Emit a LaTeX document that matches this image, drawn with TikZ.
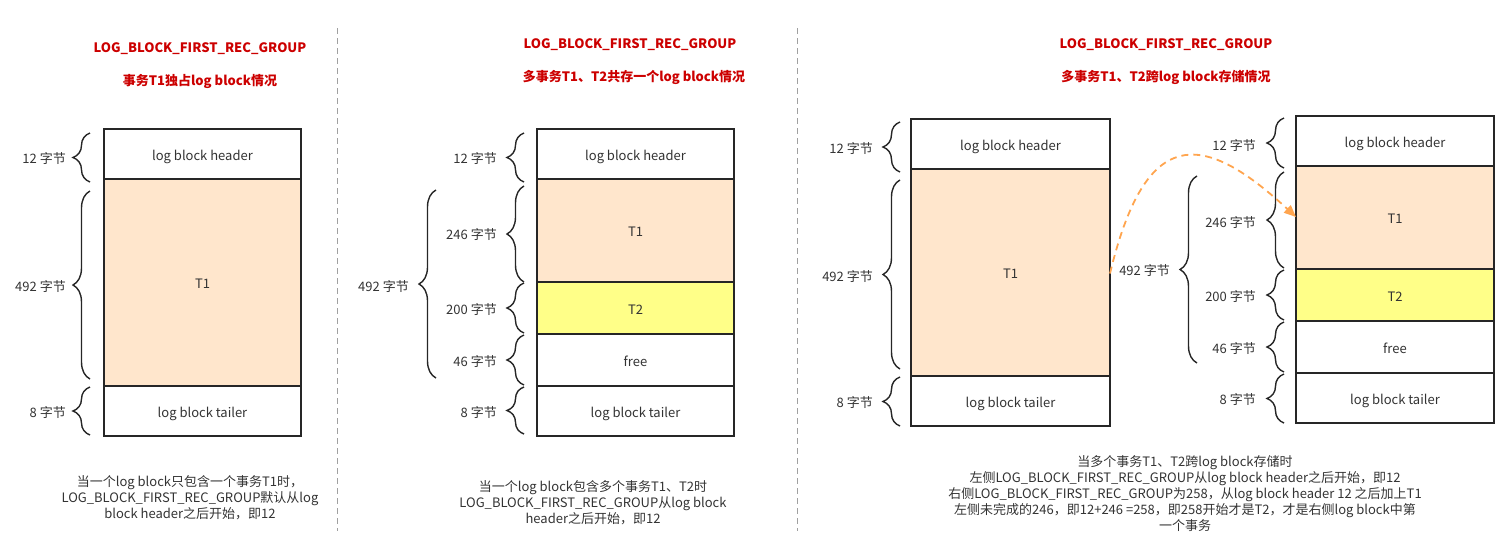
\documentclass[tikz,border=0pt]{standalone}
\usepackage{fontspec}
\setmainfont{Noto Sans CJK SC}
\usetikzlibrary{decorations.pathreplacing,arrows.meta}
\definecolor{peach}{HTML}{FFE6CC}
\definecolor{lemon}{HTML}{FFFF88}
\definecolor{titlered}{HTML}{CC0000}
\definecolor{ink}{HTML}{333333}
\definecolor{arrowor}{HTML}{FFA54F}
\definecolor{sepgray}{HTML}{A0A0A0}
\tikzset{
  cell/.style={draw=black!85, line width=1.8pt, inner sep=0pt, outer sep=0pt, anchor=north west, font=\fontsize{13}{15}\selectfont, text=ink, text height=12.5pt, text depth=0pt},
  brc/.style={decorate, decoration={brace, amplitude=17pt, aspect=0.5}, line width=1.4pt, draw=black!85},
  lbl/.style={anchor=east, font=\fontsize{13}{15}\selectfont, text=ink, inner sep=0pt},
  ttl/.style={font=\fontsize{13}{15}\selectfont\bfseries, text=titlered, inner sep=0pt},
  note/.style={align=center, font=\fontsize{13}{16}\selectfont, text=ink, inner sep=0pt, anchor=north},
  sep/.style={draw=sepgray, line width=1pt, dash pattern=on 6pt off 4pt},
  flow/.style={draw=arrowor, line width=1.8pt, dash pattern=on 7pt off 5pt, -{Triangle[length=12pt,width=10pt]}}
}
\begin{document}
\begin{tikzpicture}[x=1pt,y=-1pt]
\useasboundingbox (0,0) rectangle (1508,549);

% separators
\coordinate (s1a) at (337,28); \coordinate (s1b) at (337,531);
\coordinate (s2a) at (797,28); \coordinate (s2b) at (797,531);
\draw[sep] (s1a) -- (s1b);
\draw[sep] (s2a) -- (s2b);

% ---------- Panel 1 ----------
\node[ttl] (t1a) at (200,49) {LOG\_BLOCK\_FIRST\_REC\_GROUP};
\node[ttl] (t1b) at (200,81) {事务T1独占log block情况};

\node[cell, fill=white, minimum width=197pt, minimum height=50pt] (A1) at (104,129) {log block header};
\node[cell, fill=peach, minimum width=197pt, minimum height=207pt] (A2) at (104,179) {T1};
\node[cell, fill=white, minimum width=197pt, minimum height=50pt] (A3) at (104,386) {log block tailer};

\draw[brc] (90,182) -- (90,133);
\draw[brc] (90,379) -- (90,191);
\draw[brc] (90,435) -- (90,387);
\node[lbl] (la1) at (66,158.5) {12 字节};
\node[lbl] (la2) at (66,286.5) {492 字节};
\node[lbl] (la3) at (66,412.5) {8 字节};

\node[note] (n1) at (190,475) {当一个log block只包含一个事务T1时，\\LOG\_BLOCK\_FIRST\_REC\_GROUP默认从log\\block header之后开始，即12};

% ---------- Panel 2 ----------
\node[ttl] (t2a) at (630,45) {LOG\_BLOCK\_FIRST\_REC\_GROUP};
\node[ttl] (t2b) at (634,77.5) {多事务T1、T2共存一个log block情况};

\node[cell, fill=white, minimum width=197pt, minimum height=50pt] (B1) at (537,129) {log block header};
\node[cell, fill=peach, minimum width=197pt, minimum height=103pt] (B2) at (537,179) {T1};
\node[cell, fill=lemon, minimum width=197pt, minimum height=52pt] (B3) at (537,282) {T2};
\node[cell, fill=white, minimum width=197pt, minimum height=52pt] (B4) at (537,334) {free};
\node[cell, fill=white, minimum width=197pt, minimum height=50pt] (B5) at (537,386) {log block tailer};

\draw[brc] (524,182) -- (524,133);
\draw[brc] (524,282) -- (524,186);
\draw[brc] (524,333) -- (524,283);
\draw[brc] (524,385) -- (524,335);
\draw[brc] (524,434) -- (524,387);
\node[lbl] (lb1) at (497,158.5) {12 字节};
\node[lbl] (lb2) at (497,234.5) {246 字节};
\node[lbl] (lb3) at (497,309.5) {200 字节};
\node[lbl] (lb4) at (497,361.5) {46 字节};
\node[lbl] (lb5) at (497,412.5) {8 字节};
\draw[brc] (436,378) -- (436,190);
\node[lbl] (lb6) at (409,286.5) {492 字节};

\node[note] (n2) at (593,480) {当一个log block包含多个事务T1、T2时\\LOG\_BLOCK\_FIRST\_REC\_GROUP从log block\\header之后开始，即12};

% ---------- Panel 3 ----------
\node[ttl] (t3a) at (1166,45) {LOG\_BLOCK\_FIRST\_REC\_GROUP};
\node[ttl] (t3b) at (1166,77.5) {多事务T1、T2跨log block存储情况};

\node[cell, fill=white, minimum width=199pt, minimum height=50pt] (C1) at (911,119) {log block header};
\node[cell, fill=peach, minimum width=199pt, minimum height=207pt] (C2) at (911,169) {T1};
\node[cell, fill=white, minimum width=199pt, minimum height=50pt] (C3) at (911,376) {log block tailer};

\draw[brc] (900,172) -- (900,122);
\draw[brc] (900,369) -- (900,180);
\draw[brc] (900,426) -- (900,377);
\node[lbl] (lc1) at (873,148.5) {12 字节};
\node[lbl] (lc2) at (873,276.5) {492 字节};
\node[lbl] (lc3) at (873,402.5) {8 字节};

\node[cell, fill=white, minimum width=198pt, minimum height=50pt] (D1) at (1296,116) {log block header};
\node[cell, fill=peach, minimum width=198pt, minimum height=103pt] (D2) at (1296,166) {T1};
\node[cell, fill=lemon, minimum width=198pt, minimum height=52pt] (D3) at (1296,269) {T2};
\node[cell, fill=white, minimum width=198pt, minimum height=52pt] (D4) at (1296,321) {free};
\node[cell, fill=white, minimum width=198pt, minimum height=50pt] (D5) at (1296,373) {log block tailer};

\draw[brc] (1284,168) -- (1284,118);
\draw[brc] (1284,268) -- (1284,172);
\draw[brc] (1284,320) -- (1284,270);
\draw[brc] (1284,372) -- (1284,322);
\draw[brc] (1284,423) -- (1284,374);
\node[lbl] (ld1) at (1256,145.5) {12 字节};
\node[lbl] (ld2) at (1256,222.5) {246 字节};
\node[lbl] (ld3) at (1256,296.5) {200 字节};
\node[lbl] (ld4) at (1256,348.5) {46 字节};
\node[lbl] (ld5) at (1256,399.5) {8 字节};
\draw[brc] (1197,363) -- (1197,176);
\node[lbl] (ld6) at (1170,270.5) {492 字节};

\coordinate (ast) at ([yshift=-1pt]C2.east);
\coordinate (aen) at (1296,217);
\draw[flow] (ast) .. controls (1145,128) and (1200,128) .. (aen);

\node[note] (n3) at (1185,455) {当多个事务T1、T2跨log block存储时\\左侧LOG\_BLOCK\_FIRST\_REC\_GROUP从log block header之后开始，即12\\右侧LOG\_BLOCK\_FIRST\_REC\_GROUP为258，从log block header 12 之后加上T1\\左侧未完成的246，即12+246 =258，即258开始才是T2，才是右侧log block中第\\一个事务};
\end{tikzpicture}
\end{document}
